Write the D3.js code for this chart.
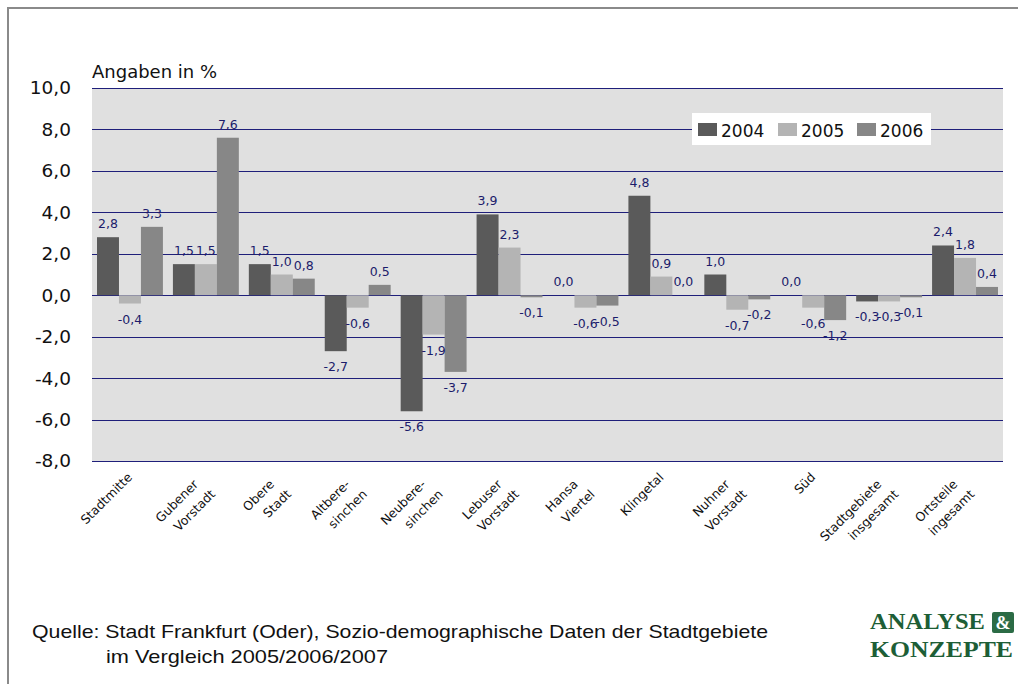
<!DOCTYPE html>
<html>
<head>
<meta charset="utf-8">
<script src="https://cdn.jsdelivr.net/npm/d3@7"></script>
<style>
  body { margin: 0; background: #fff; }
  svg { display: block; }
</style>
</head>
<body>
<div id="chart"></div>
<script>
// data
var categories = [
  ["Stadtmitte"], ["Gubener", "Vorstadt"], ["Obere", "Stadt"], ["Altbere-", "sinchen"],
  ["Neubere-", "sinchen"], ["Lebuser", "Vorstadt"], ["Hansa", "Viertel"], ["Klingetal"],
  ["Nuhner", "Vorstadt"], ["Süd"], ["Stadtgebiete", "insgesamt"], ["Ortsteile", "ingesamt"]
];
var years = ["2004", "2005", "2006"];
var values2004 = [2.8, 1.5, 1.5, -2.7, -5.6, 3.9, 0.0, 4.8, 1.0, 0.0, -0.3, 2.4];
var values2005 = [-0.4, 1.5, 1.0, -0.6, -1.9, 2.3, -0.6, 0.9, -0.7, -0.6, -0.3, 1.8];
var values2006 = [3.3, 7.6, 0.8, 0.5, -3.7, -0.1, -0.5, 0.0, -0.2, -1.2, -0.1, 0.4];
var yTicks = [-8, -6, -4, -2, 0, 2, 4, 6, 8, 10];

var colors = ["#5a5a5a", "#b4b4b4", "#878787"];
var series = [values2004, values2005, values2006];

var W = 1018, H = 684;
var plot = {left: 92, right: 1003, top: 88, bottom: 461};

var svg = d3.select("#chart").append("svg")
    .attr("width", W)
    .attr("height", H);

// outer frame (cut off at right/bottom like the source)
svg.append("rect")
    .attr("x", 8).attr("y", 8)
    .attr("width", 1040).attr("height", 720)
    .attr("fill", "none")
    .attr("stroke", "#8a8a8a")
    .attr("stroke-width", 2);

var keys = categories.map(function(d) { return d.join(" "); });

var x = d3.scaleBand().domain(keys).range([plot.left, plot.right]);
var xSub = d3.scaleBand().domain(years).range([5, x.bandwidth() - 5]);
var y = d3.scaleLinear().domain([-8, 10]).range([plot.bottom, plot.top]);

var fmt = function(v) { return v.toFixed(1).replace(".", ","); };

svg.append("rect")
    .attr("x", plot.left).attr("y", plot.top)
    .attr("width", plot.right - plot.left)
    .attr("height", plot.bottom - plot.top)
    .attr("fill", "#e0e0e0");

// gridlines
svg.append("g")
  .selectAll("line")
  .data(yTicks)
  .join("line")
    .attr("x1", plot.left).attr("x2", plot.right)
    .attr("y1", function(d) { return Math.round(y(d)) + 0.5; })
    .attr("y2", function(d) { return Math.round(y(d)) + 0.5; })
    .attr("stroke", "#1f1f7a")
    .attr("stroke-width", 1);

// y axis labels
var yAxis = d3.axisLeft(y).tickValues(yTicks).tickFormat(fmt).tickSize(0).tickPadding(0);
var gy = svg.append("g")
    .attr("transform", "translate(71,0)")
    .call(yAxis);
gy.select(".domain").remove();
gy.selectAll("text")
    .attr("font-family", "DejaVu Sans, sans-serif")
    .attr("font-size", 18.5)
    .attr("fill", "#111");

svg.append("text")
    .attr("x", 92).attr("y", 78)
    .attr("font-family", "DejaVu Sans, sans-serif")
    .attr("font-size", 18)
    .attr("fill", "#111")
    .text("Angaben in %");

// bars
var rows = [];
keys.forEach(function(k, i) {
  years.forEach(function(yr, j) {
    rows.push({key: k, year: yr, idx: j, v: series[j][i]});
  });
});

svg.append("g")
  .selectAll("rect")
  .data(rows)
  .join("rect")
    .attr("x", function(d) { return x(d.key) + xSub(d.year); })
    .attr("width", xSub.bandwidth())
    .attr("y", function(d) { return y(Math.max(0, d.v)); })
    .attr("height", function(d) { return Math.abs(y(d.v) - y(0)); })
    .attr("fill", function(d) { return colors[d.idx]; });

// value labels
svg.append("g")
  .selectAll("text")
  .data(rows)
  .join("text")
    .attr("x", function(d) { return x(d.key) + xSub(d.year) + xSub.bandwidth() / 2; })
    .attr("y", function(d) { return d.v < 0 ? y(d.v) + 20 : y(d.v) - 9; })
    .attr("text-anchor", "middle")
    .attr("font-family", "DejaVu Sans, sans-serif")
    .attr("font-size", 12.5)
    .attr("fill", "#1c1c6b")
    .text(function(d) { return fmt(d.v); });

// category labels, rotated
var xl = svg.append("g")
  .selectAll("g")
  .data(categories)
  .join("g")
    .attr("transform", function(d, i) {
      return "translate(" + (x(keys[i]) + x.bandwidth() / 2 + 3) + ",478) rotate(-45)";
    });

xl.each(function(lines) {
  var g = d3.select(this);
  lines.forEach(function(t, i) {
    var multi = lines.length > 1;
    g.append("text")
      .attr("x", multi ? -12 + 5 * i : 0)
      .attr("y", multi ? -2 + 19 * i : 0)
      .attr("text-anchor", "end")
      .attr("font-family", "DejaVu Sans, sans-serif")
      .attr("font-size", 12.5)
      .attr("fill", "#111")
      .text(t);
  });
});

// legend
var lg = svg.append("g");
lg.append("rect")
    .attr("x", 692).attr("y", 113)
    .attr("width", 239).attr("height", 32)
    .attr("fill", "#fff");
var lx = [698, 778, 857];
years.forEach(function(yr, j) {
  lg.append("rect")
    .attr("x", lx[j]).attr("y", 123)
    .attr("width", 19).attr("height", 13)
    .attr("fill", colors[j]);
  lg.append("text")
    .attr("x", lx[j] + 23).attr("y", 137)
    .attr("font-family", "DejaVu Sans, sans-serif")
    .attr("font-size", 17)
    .attr("fill", "#111")
    .text(yr);
});

// source note
var src = svg.append("g")
    .attr("font-family", "Liberation Sans Narrow, Liberation Sans, sans-serif")
    .attr("font-size", 19)
    .attr("fill", "#111");
src.append("text")
    .attr("x", 32).attr("y", 638)
    .attr("textLength", 736)
    .attr("lengthAdjust", "spacingAndGlyphs")
    .text("Quelle: Stadt Frankfurt (Oder), Sozio-demographische Daten der Stadtgebiete");
src.append("text")
    .attr("x", 106).attr("y", 663)
    .attr("textLength", 282)
    .attr("lengthAdjust", "spacingAndGlyphs")
    .text("im Vergleich 2005/2006/2007");

// logo
var logo = svg.append("g")
    .attr("font-family", "Liberation Serif, serif")
    .attr("font-weight", "bold")
    .attr("font-size", 24)
    .attr("fill", "#1d5e36");
logo.append("text")
    .attr("x", 870).attr("y", 629)
    .attr("textLength", 115)
    .attr("lengthAdjust", "spacingAndGlyphs")
    .text("ANALYSE");
logo.append("rect")
    .attr("x", 992).attr("y", 612)
    .attr("width", 22).attr("height", 21)
    .attr("rx", 2)
    .attr("fill", "#2b6b45");
logo.append("text")
    .attr("x", 1003).attr("y", 629)
    .attr("text-anchor", "middle")
    .attr("font-size", 18)
    .attr("fill", "#fff")
    .text("&");
logo.append("text")
    .attr("x", 870).attr("y", 657)
    .attr("textLength", 143)
    .attr("lengthAdjust", "spacingAndGlyphs")
    .text("KONZEPTE");
</script>
</body>
</html>
